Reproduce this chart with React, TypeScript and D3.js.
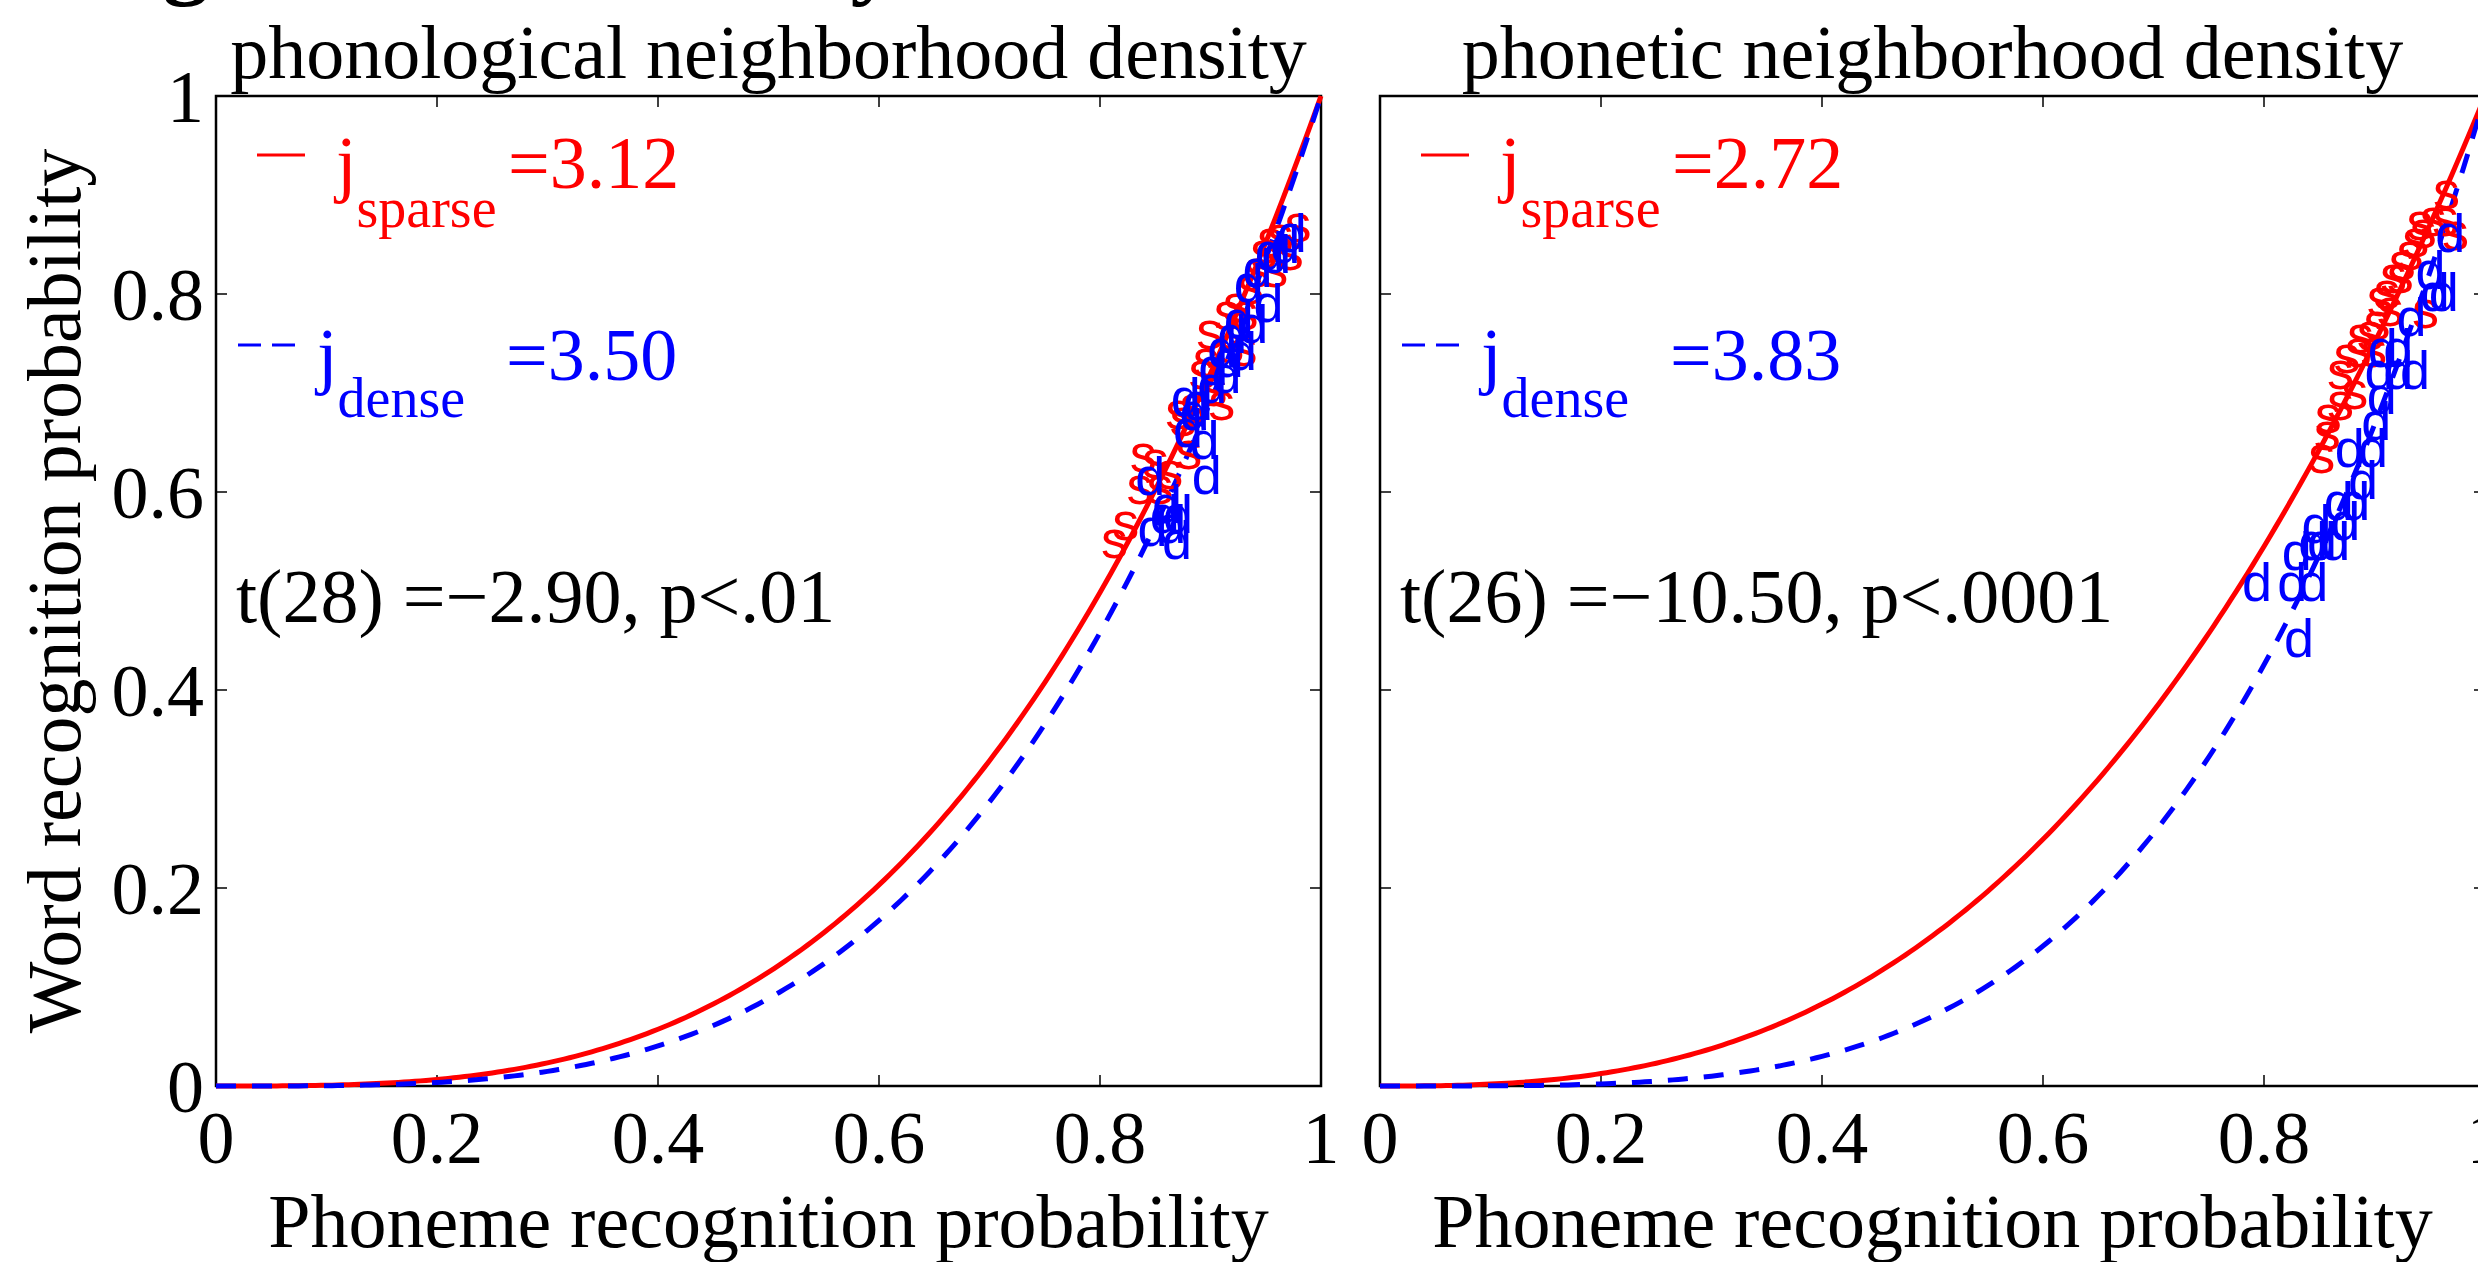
import React from "react";
import * as d3 from "d3";

// panel texts
const panelTitles = ["phonological neighborhood density", "phonetic neighborhood density"];
const tStats = ["t(28) =\u22122.90, p<.01", "t(26) =\u221210.50, p<.0001"];
const xLabel = "Phoneme recognition probability";
const yLabel = "Word recognition probability";
const figTitle = "Neighborhood density";

// fitted exponents, y = p^j
const jSparse = [3.12, 2.72];
const jDense = [3.5, 3.83];

const ticks = [0, 0.2, 0.4, 0.6, 0.8, 1];
const tickLabels = ["0", "0.2", "0.4", "0.6", "0.8", "1"];

// [phoneme prob, word prob] per word
const sparseLeft: [number, number][] = [
  [0.801, 0.551], [0.811, 0.569], [0.824, 0.605], [0.827, 0.638], [0.838, 0.632],
  [0.842, 0.605], [0.851, 0.62], [0.859, 0.681], [0.863, 0.674], [0.868, 0.641],
  [0.872, 0.687], [0.88, 0.721], [0.884, 0.734], [0.887, 0.762], [0.891, 0.704],
  [0.898, 0.69], [0.903, 0.781], [0.906, 0.748], [0.911, 0.789], [0.918, 0.745],
  [0.919, 0.781], [0.924, 0.807], [0.93, 0.825], [0.936, 0.843], [0.942, 0.855],
  [0.946, 0.825], [0.951, 0.859], [0.96, 0.842], [0.967, 0.87],
];
const denseLeft: [number, number][] = [
  [0.832, 0.614], [0.834, 0.563], [0.845, 0.576], [0.847, 0.586], [0.851, 0.566],
  [0.856, 0.55], [0.857, 0.576], [0.864, 0.694], [0.866, 0.663], [0.872, 0.68],
  [0.875, 0.69], [0.881, 0.651], [0.883, 0.615], [0.888, 0.707], [0.889, 0.726],
  [0.897, 0.744], [0.901, 0.717], [0.903, 0.734], [0.906, 0.758], [0.912, 0.773],
  [0.915, 0.741], [0.921, 0.809], [0.925, 0.768], [0.929, 0.825], [0.939, 0.789],
  [0.94, 0.842], [0.946, 0.839], [0.954, 0.849], [0.96, 0.86],
];
const sparseRight: [number, number][] = [
  [0.84, 0.637], [0.845, 0.66], [0.846, 0.677], [0.857, 0.69], [0.857, 0.721],
  [0.863, 0.738], [0.87, 0.701], [0.873, 0.744], [0.875, 0.758], [0.884, 0.761],
  [0.887, 0.744], [0.89, 0.771], [0.893, 0.795], [0.899, 0.802], [0.902, 0.785],
  [0.905, 0.818], [0.911, 0.818], [0.913, 0.832], [0.92, 0.842], [0.925, 0.855],
  [0.929, 0.872], [0.932, 0.864], [0.934, 0.783], [0.941, 0.876], [0.952, 0.876],
  [0.953, 0.903], [0.961, 0.862],
];
const denseRight: [number, number][] = [
  [0.78, 0.507], [0.812, 0.507], [0.818, 0.451], [0.816, 0.539], [0.831, 0.507],
  [0.831, 0.549], [0.834, 0.566], [0.839, 0.549], [0.851, 0.549], [0.854, 0.589],
  [0.86, 0.569], [0.864, 0.643], [0.869, 0.589], [0.876, 0.61], [0.885, 0.643],
  [0.888, 0.67], [0.891, 0.721], [0.893, 0.696], [0.894, 0.744], [0.908, 0.721],
  [0.908, 0.744], [0.92, 0.775], [0.923, 0.721], [0.937, 0.823], [0.941, 0.8],
  [0.949, 0.8], [0.955, 0.86],
];
const sparsePts = [sparseLeft, sparseRight];
const densePts = [denseLeft, denseRight];

const W = 2478;
const H = 1262;
const panelLeft = [216, 1380];
const plotW = 1105;
const top = 96;
const bottom = 1086;
const tickLen = 11;

const serif = "'Liberation Serif', 'Times New Roman', serif";
const sans = "'Liberation Sans', Arial, sans-serif";

function Panel({ i }: { i: number }) {
  const L = panelLeft[i];
  const x = d3.scaleLinear().domain([0, 1]).range([L, L + plotW]);
  const y = d3.scaleLinear().domain([0, 1]).range([bottom, top]);
  const grid = d3.range(0, 1.0001, 0.005);
  const curve = (j: number) =>
    d3.line<number>().x(p => x(p)).y(p => y(Math.pow(p, j)))(grid) || "";
  const fmt = d3.format(".2f");
  const inner = ticks.slice(1, -1);

  return (
    <g>
      {/* frame */}
      <rect x={L} y={top} width={plotW} height={bottom - top} fill="none" stroke="#000" strokeWidth={2.5} />
      {inner.map(t => (
        <g key={"t" + t} stroke="#000" strokeWidth={1.5}>
          <line x1={x(t)} x2={x(t)} y1={bottom} y2={bottom - tickLen} />
          <line x1={x(t)} x2={x(t)} y1={top} y2={top + tickLen} />
          <line x1={L} x2={L + tickLen} y1={y(t)} y2={y(t)} />
          <line x1={L + plotW} x2={L + plotW - tickLen} y1={y(t)} y2={y(t)} />
        </g>
      ))}
      {/* x tick labels */}
      {ticks.map((t, k) => (
        <text key={"xl" + t} x={x(t)} y={1163} textAnchor="middle" fontFamily={serif} fontSize={74}>
          {tickLabels[k]}
        </text>
      ))}
      {i === 0 &&
        ticks.map((t, k) => (
          <text key={"yl" + t} x={L - 12} y={y(t) + 26} textAnchor="end" fontFamily={serif} fontSize={74}>
            {tickLabels[k]}
          </text>
        ))}
      {/* title + x label */}
      <text x={L + plotW / 2} y={78} textAnchor="middle" fontFamily={serif} fontSize={76}>
        {panelTitles[i]}
      </text>
      <text x={L + plotW / 2} y={1247} textAnchor="middle" fontFamily={serif} fontSize={76}>
        {xLabel}
      </text>

      {/* fitted curves */}
      <path d={curve(jSparse[i])} fill="none" stroke="#ff0000" strokeWidth={5} />
      <path d={curve(jDense[i])} fill="none" stroke="#0000ff" strokeWidth={5} strokeDasharray="20 16" />

      {/* word markers */}
      {sparsePts[i].map((d, k) => (
        <text key={"s" + k} x={x(d[0])} y={y(d[1])} dy="0.32em" fontFamily={sans} fontSize={54} fill="#ff0000">s</text>
      ))}
      {densePts[i].map((d, k) => (
        <text key={"d" + k} x={x(d[0])} y={y(d[1])} dy="0.32em" fontFamily={sans} fontSize={54} fill="#0000ff">d</text>
      ))}

      {/* legend */}
      <line x1={L + 41} x2={L + 89} y1={155} y2={155} stroke="#ff0000" strokeWidth={3} />
      <text x={L + 120} y={188} fill="#ff0000" fontFamily={serif} fontSize={74}>
        j<tspan dy={39} fontSize={56}>sparse</tspan>
        <tspan x={L + 292} dy={-39}>={fmt(jSparse[i])}</tspan>
      </text>
      <line x1={L + 22} x2={L + 82} y1={345} y2={345} stroke="#0000ff" strokeWidth={3} strokeDasharray="23 11" />
      <text x={L + 101} y={380} fill="#0000ff" fontFamily={serif} fontSize={74}>
        j<tspan dy={37} fontSize={56}>dense</tspan>
        <tspan x={L + 290} dy={-37}>={fmt(jDense[i])}</tspan>
      </text>

      <text x={L + 20} y={622} fontFamily={serif} fontSize={76}>{tStats[i]}</text>
    </g>
  );
}

export default function App() {
  return (
    <div style={{ position: "fixed", left: 0, top: 0, width: W, height: H, overflow: "hidden", background: "#fff" }}>
      <svg width={W} height={H} style={{ display: "block" }}>
        <rect width={W} height={H} fill="#fff" />
        {/* figure title, cut off by the top edge */}
        <text x={30} y={-12} fontFamily={serif} fontWeight="bold" fontSize={92}>{figTitle}</text>
        <text transform="translate(80,591) rotate(-90)" textAnchor="middle" fontFamily={serif} fontSize={76}>
          {yLabel}
        </text>
        <Panel i={0} />
        <Panel i={1} />
      </svg>
    </div>
  );
}
